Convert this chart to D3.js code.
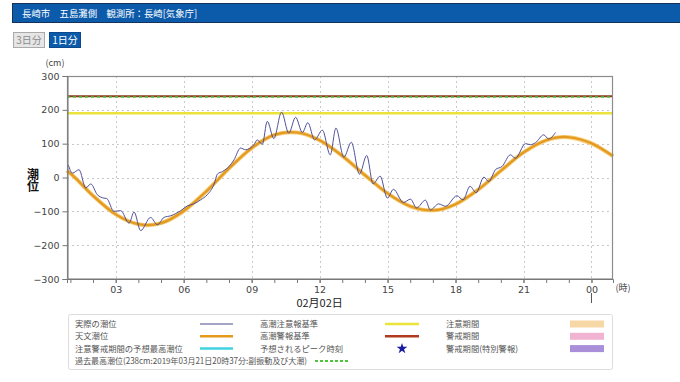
<!DOCTYPE html>
<html><head><meta charset="utf-8">
<script src="https://cdn.jsdelivr.net/npm/d3@7"></script>
<style>
body{margin:0;background:#fff;font-family:"Noto Sans CJK JP","Noto Sans",sans-serif;}
svg{display:block}
</style></head><body>
<svg id="c" width="680" height="382"></svg>
<script>
const titleText = "長崎市　五島灘側　観測所：長崎[気象庁]";
const buttons = ["3日分", "1日分"];
const yTicks = [-300, -200, -100, 0, 100, 200, 300];
const xMajorHours = [3, 6, 9, 12, 15, 18, 21, 24];
const xMajorLabels = ["03", "06", "09", "12", "15", "18", "21", "00"];
const xMinorHours = [1,2,3,4,5,6,7,8,9,10,11,12,13,14,15,16,17,18,19,20,21,22,23,24];
const dateLabel = "02月02日";

// 実際の潮位 (observed)
const actualHours = [0.91,1.09,1.38,1.68,1.90,2.19,2.48,2.60,2.92,3.22,3.59,3.81,4.10,4.54,4.84,5.13,5.43,5.87,6.16,6.44,6.75,7.04,7.34,7.49,7.72,8.01,8.22,8.51,8.73,9.10,9.25,9.47,9.69,9.98,10.32,10.64,10.94,11.24,11.48,11.78,12.12,12.47,12.72,13.07,13.40,13.76,14.08,14.36,14.67,14.99,15.26,15.70,16.01,16.28,16.67,16.89,17.25,17.56,18.06,18.33,18.64,18.91,19.25,19.47,19.76,20.06,20.42,20.64,21.09,21.31,21.53,21.89,22.11,22.41];
const actualLevels = [37,13,23,-31,-19,-51,-61,-62,-100,-98,-135,-102,-157,-118,-140,-118,-113,-98,-84,-78,-66,-51,-20,10,18,33,52,87,82,97,111,98,166,115,193,131,178,133,162,111,140,67,146,60,104,10,65,-19,4,-61,-35,-74,-64,-90,-67,-96,-78,-85,-54,-66,-26,-45,1,-12,23,33,67,57,100,97,103,126,114,133];

// 天文潮位 (astronomical)
const astroHours = [0.85,1,2,3,4,4.4,5,6,7,8,9,10,10.7,11,12,13,14,15,16,16.9,17,18,19,20,21,22,22.8,23,24,24.95];
const astroLevels = [20,12,-54,-109,-138,-141,-135,-99,-41,27,87,126,134,133,110,64,7,-47,-85,-97,-97,-79,-36,20,74,110,120,119,101,63];

const warningLevel = 240;   // 高潮警報基準
const recordLevel = 238;    // 過去最高潮位
const advisoryLevel = 190;  // 高潮注意報基準

const legendCol1 = ["実際の潮位", "天文潮位", "注意警戒期間の予想最高潮位"];
const legendCol1Colors = ["#4b4b8f", "#e59a1c", "#3fd3e0"];
const legendCol2 = ["高潮注意報基準", "高潮警報基準", "予想されるピーク時刻"];
const legendCol2Colors = ["#ebe23a", "#b23a1e", "#1a1aa0"];
const legendCol3 = ["注意期間", "警戒期間", "警戒期間(特別警報)"];
const legendCol3Colors = ["#f7d7a6", "#f1b3d2", "#a98fd9"];
const legendLast = "過去最高潮位(238cm:2019年03月21日20時37分:副振動及び大潮)";

const svg = d3.select("#c");
const font = '"Noto Sans CJK JP","Noto Sans",sans-serif';

// Header bar
svg.append("rect").attr("x", 12.5).attr("y", 3.5).attr("width", 680).attr("height", 19)
  .attr("fill", "#0c5bab").attr("stroke", "#17325a").attr("stroke-width", 1);
svg.append("text").attr("x", 22).attr("y", 16.5).attr("fill", "#fff")
  .attr("font-size", 9.4).attr("font-family", font).text(titleText);

// Buttons
svg.append("rect").attr("x", 13.5).attr("y", 32.5).attr("width", 31).attr("height", 15)
  .attr("fill", "#e6e6e6").attr("stroke", "#aaa");
svg.append("text").attr("x", 29).attr("y", 43.8).attr("text-anchor", "middle").attr("fill", "#8a8a8a")
  .attr("font-size", 10).attr("font-family", font).text(buttons[0]);
svg.append("rect").attr("x", 49.5).attr("y", 32.5).attr("width", 31).attr("height", 15)
  .attr("fill", "#0c5bab").attr("stroke", "#0a4a8c");
svg.append("text").attr("x", 65).attr("y", 43.8).attr("text-anchor", "middle").attr("fill", "#fff")
  .attr("font-size", 10).attr("font-family", font).text(buttons[1]);

// Scales
const x = d3.scaleLinear().domain([0.85, 24.95]).range([67, 613]);
const y = d3.scaleLinear().domain([-300, 300]).range([279, 76]);

// Grid
const g = svg.append("g");
g.selectAll(".hg").data(yTicks.filter(v => v > -300 && v < 300)).enter().append("line")
  .attr("x1", x.range()[0]).attr("x2", x.range()[1])
  .attr("y1", d => Math.round(y(d)) + 0.5).attr("y2", d => Math.round(y(d)) + 0.5)
  .attr("stroke", "#c8c8c8").attr("stroke-dasharray", "2,3");
g.selectAll(".vg").data(xMajorHours).enter().append("line")
  .attr("x1", d => Math.round(x(d)) + 0.5).attr("x2", d => Math.round(x(d)) + 0.5)
  .attr("y1", y.range()[1]).attr("y2", y.range()[0])
  .attr("stroke", "#c8c8c8").attr("stroke-dasharray", "2,3");

// Threshold lines
g.append("line").attr("x1", 67).attr("x2", 613).attr("y1", y(advisoryLevel)).attr("y2", y(advisoryLevel))
  .attr("stroke", "#ebe23a").attr("stroke-width", 2.5);
g.append("line").attr("x1", 67).attr("x2", 613).attr("y1", y(warningLevel)).attr("y2", y(warningLevel))
  .attr("stroke", "#8a3a1e").attr("stroke-width", 2);
g.append("line").attr("x1", 67).attr("x2", 613).attr("y1", y(recordLevel)).attr("y2", y(recordLevel))
  .attr("stroke", "#4cc43c").attr("stroke-width", 1.5).attr("stroke-dasharray", "3,3");

// Astronomical tide
const astro = astroHours.map((h, i) => [h, astroLevels[i]]);
const lineGen = d3.line().x(d => x(d[0])).y(d => y(d[1])).curve(d3.curveMonotoneX);
g.append("path").attr("d", lineGen(astro)).attr("fill", "none")
  .attr("stroke", "#f5c870").attr("stroke-width", 4);
g.append("path").attr("d", lineGen(astro)).attr("fill", "none")
  .attr("stroke", "#e39a1e").attr("stroke-width", 2.2);

// Observed tide
const actual = actualHours.map((h, i) => [h, actualLevels[i]]);
g.append("path").attr("d", lineGen(actual)).attr("fill", "none")
  .attr("stroke", "#50509a").attr("stroke-width", 1);

// Frame
svg.append("rect").attr("x", 67.5).attr("y", 76.5).attr("width", 545).attr("height", 202.5)
  .attr("fill", "none").attr("stroke", "#8c8c8c").attr("stroke-width", 1.2);

// Y axis
const yAxis = svg.append("g").attr("transform", "translate(67.5,0)")
  .call(d3.axisLeft(y).tickValues(yTicks).tickSize(5).tickPadding(3));
yAxis.select(".domain").attr("stroke", "#777");
yAxis.selectAll(".tick line").attr("stroke", "#777");
yAxis.selectAll("text").attr("fill", "#444").attr("font-family", "'DejaVu Sans',sans-serif").style("font-size","9.5px");

// X axis
const xAxisMinor = svg.append("g").attr("transform", "translate(0,279)")
  .call(d3.axisBottom(x).tickValues(xMinorHours).tickSize(4).tickFormat(""));
xAxisMinor.select(".domain").attr("stroke", "#777");
xAxisMinor.selectAll(".tick line").attr("stroke", "#777");
const xAxis = svg.append("g").attr("transform", "translate(0,279)")
  .call(d3.axisBottom(x).tickValues(xMajorHours).tickSize(4).tickPadding(3)
    .tickFormat((d, i) => xMajorLabels[i]));
xAxis.select(".domain").remove();
xAxis.selectAll(".tick line").attr("stroke", "#777");
xAxis.selectAll("text").attr("fill", "#444").attr("font-family", "'DejaVu Sans',sans-serif").style("font-size","9.5px");

// day marker at 00
svg.append("line").attr("x1", x(24)).attr("x2", x(24)).attr("y1", 293).attr("y2", 303)
  .attr("stroke", "#555").attr("stroke-width", 1);

svg.append("text").attr("x", 623).attr("y", 291).attr("text-anchor", "middle")
  .attr("fill", "#444").attr("font-size", 9).attr("font-family", font).text("(時)");
svg.append("text").attr("x", 55).attr("y", 66).attr("text-anchor", "middle")
  .attr("fill", "#444").attr("font-size", 9).attr("font-family", font).text("(cm)");
svg.append("text").attr("x", x(12)).attr("y", 307).attr("text-anchor", "middle")
  .attr("fill", "#222").attr("font-size", 11).attr("font-family", font).text(dateLabel);
svg.append("text").attr("x", 33).attr("y", 180).attr("text-anchor", "middle")
  .style("writing-mode", "vertical-rl").style("text-orientation", "upright")
  .attr("fill", "#111").attr("font-size", 12).attr("font-weight", "bold").attr("font-family", font)
  .text("潮位");

// Legend
const lg = svg.append("g");
lg.append("rect").attr("x", 68.5).attr("y", 314.5).attr("width", 544).attr("height", 55).attr("rx", 2)
  .attr("fill", "#fff").attr("stroke", "#dcdcdc");
const rowY = [324, 336.3, 348.6];
const lfs = 8.3;
lg.selectAll(".l1").data(legendCol1).enter().append("text")
  .attr("x", 75).attr("y", (d, i) => rowY[i] + 3).attr("fill", "#555").attr("font-size", lfs)
  .attr("font-family", font).text(d => d);
lg.selectAll(".s1").data(legendCol1Colors).enter().append("line")
  .attr("x1", 200).attr("x2", 233).attr("y1", (d, i) => rowY[i]).attr("y2", (d, i) => rowY[i])
  .attr("stroke", d => d).attr("stroke-width", (d, i) => i === 0 ? 1 : 2.5);
lg.selectAll(".l2").data(legendCol2).enter().append("text")
  .attr("x", 260).attr("y", (d, i) => rowY[i] + 3).attr("fill", "#555").attr("font-size", lfs)
  .attr("font-family", font).text(d => d);
legendCol2Colors.forEach((c, i) => {
  if (i < 2) {
    lg.append("line").attr("x1", 385).attr("x2", 419).attr("y1", rowY[i]).attr("y2", rowY[i])
      .attr("stroke", c).attr("stroke-width", 2.5);
  } else {
    lg.append("path").attr("d", d3.symbol(d3.symbolStar, 36)()).attr("transform", `translate(402,${rowY[i]})`)
      .attr("fill", c);
  }
});
lg.selectAll(".l3").data(legendCol3).enter().append("text")
  .attr("x", 446).attr("y", (d, i) => rowY[i] + 3).attr("fill", "#555").attr("font-size", lfs)
  .attr("font-family", font).text(d => d);
lg.selectAll(".s3").data(legendCol3Colors).enter().append("rect")
  .attr("x", 570).attr("y", (d, i) => rowY[i] - 3.5).attr("width", 34).attr("height", 7).attr("fill", d => d);
lg.append("text").attr("x", 75).attr("y", 364).attr("fill", "#555").attr("font-size", lfs)
  .attr("font-family", font).attr("textLength", 232).attr("lengthAdjust", "spacingAndGlyphs").text(legendLast);
lg.append("line").attr("x1", 315).attr("x2", 350).attr("y1", 361).attr("y2", 361)
  .attr("stroke", "#4cc43c").attr("stroke-width", 2).attr("stroke-dasharray", "3,2");
</script>
</body></html>
